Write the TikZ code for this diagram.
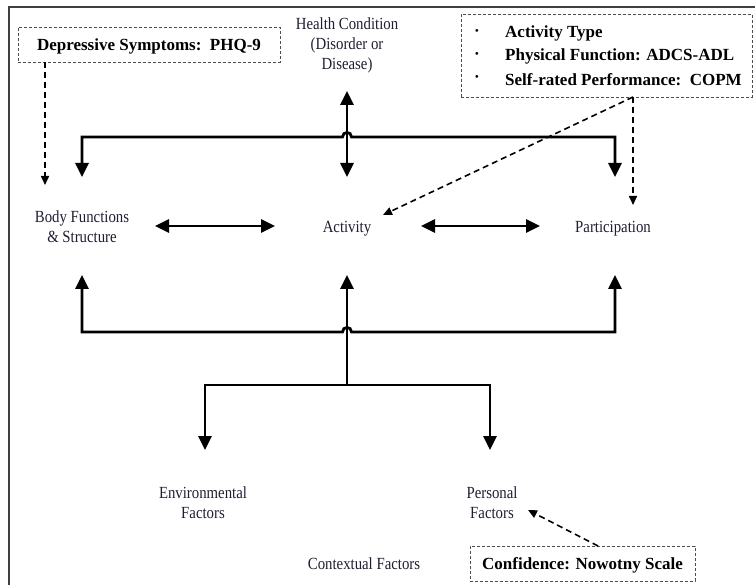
\documentclass[tikz,border=0pt]{standalone}
\usepackage{fontspec}
\setmainfont{Liberation Serif}
\usetikzlibrary{arrows.meta}
\definecolor{txt}{RGB}{30,30,50}
\newcommand{\labtext}[1]{\scalebox{0.87}[1]{\begin{tabular}{@{}c@{}}#1\end{tabular}}}
\begin{document}
\begin{tikzpicture}[x=1pt,y=-1pt,
  lab/.style={font=\fontsize{17}{20}\selectfont, text=txt, align=center, inner sep=0pt, yshift=-2.5pt},
  btxt/.style={font=\fontsize{17}{20}\selectfont\bfseries, inner sep=0pt, yshift=-1.5pt},
  dbox/.style={draw=black!70, dash pattern=on 3pt off 2pt, line width=0.9pt, inner sep=0pt},
  solidline/.style={line width=2.8pt, line join=miter},
  tri/.tip={Triangle[width=13pt,length=14pt]},
  dtri/.tip={Triangle[width=8pt,length=9pt]},
  dashline/.style={line width=1.6pt, dash pattern=on 6pt off 4pt, -dtri}
]
\useasboundingbox (0,0) rectangle (755,585);
\draw[line width=1.3pt, black!75] (9,600) -- (9,7) -- (770,7);

% text nodes
\node[lab] (hc) at (347,43) {\labtext{Health Condition\\(Disorder or\\Disease)}};
\node[lab] (bf) at (82,226) {\labtext{Body Functions\\\& Structure}};
\node[lab] (act) at (347,226) {\labtext{Activity}};
\node[lab] (par) at (613,226) {\labtext{Participation}};
\node[lab] (env) at (203,502) {\labtext{Environmental\\Factors}};
\node[lab] (per) at (492,502) {\labtext{Personal\\Factors}};
\node[lab] (ctx) at (364,563) {\labtext{Contextual Factors}};

% dashed boxes
\node[dbox, minimum width=262pt, minimum height=35pt] (dep) at (149,44.5) {};
\node[btxt] at (dep.center) {Depressive Symptoms:\ \ PHQ-9};
\node[dbox, minimum width=291pt, minimum height=83pt] (ab) at (606.5,55.5) {};
\node[btxt, anchor=west] (b1) at (505,32) {Activity Type};
\node[btxt, anchor=west] (b2) at (505,55) {Physical Function: ADCS-ADL};
\node[btxt, anchor=west] (b3) at (505,78) {Self-rated Performance:\ \ COPM};
\node[btxt] at (477,32) {\textperiodcentered};
\node[btxt] at (477,55) {\textperiodcentered};
\node[btxt] at (477,78) {\textperiodcentered};
\node[dbox, minimum width=225pt, minimum height=35pt] (conf) at (582.5,563.5) {};
\node[btxt] at (conf.center) {Confidence: Nowotny Scale};

% arrow end coordinates
\coordinate (bfT) at (82,177);
\coordinate (actT) at (347,177);
\coordinate (parT) at (615,177);
\coordinate (hcB) at (347,91);
\coordinate (bfB) at (82,275);
\coordinate (actB) at (347,275);
\coordinate (parB) at (615,275);
\coordinate (envT) at (205,450);
\coordinate (perT) at (490,450);
\coordinate (lowJ) at (347,385);

% upper bracket
\draw[solidline, tri-tri] (bfT) -- (82,137) -- (342.5,137) .. controls (342.5,131) and (351.5,131) .. (351.5,137) -- (615,137) -- (parT);
\draw[solidline, tri-tri] (hcB) -- (actT);

% horizontal double arrows
\draw[solidline, tri-tri] (155,226) -- (275,226);
\draw[solidline, tri-tri] (421,226) -- (540,226);

% lower bracket
\draw[solidline, tri-tri] (bfB) -- (82,332) -- (342.5,332) .. controls (342.5,326) and (351.5,326) .. (351.5,332) -- (615,332) -- (parB);
\draw[solidline, -tri] (lowJ) -- (actB);
\draw[solidline, tri-tri] (envT) -- (205,385) -- (490,385) -- (perT);

% dashed arrows
\coordinate (d1) at (45,62);
\coordinate (d1e) at (45,185);
\coordinate (d2) at (633,97);
\coordinate (d2e) at (633,205);
\coordinate (d3e) at (383,215);
\coordinate (d4) at (598,546);
\coordinate (d4e) at (528,510);
\draw[dashline] (d1) -- (d1e);
\draw[dashline] (d2) -- (d2e);
\draw[dashline] (d2) -- (d3e);
\draw[dashline] (d4) -- (d4e);
\end{tikzpicture}
\end{document}
